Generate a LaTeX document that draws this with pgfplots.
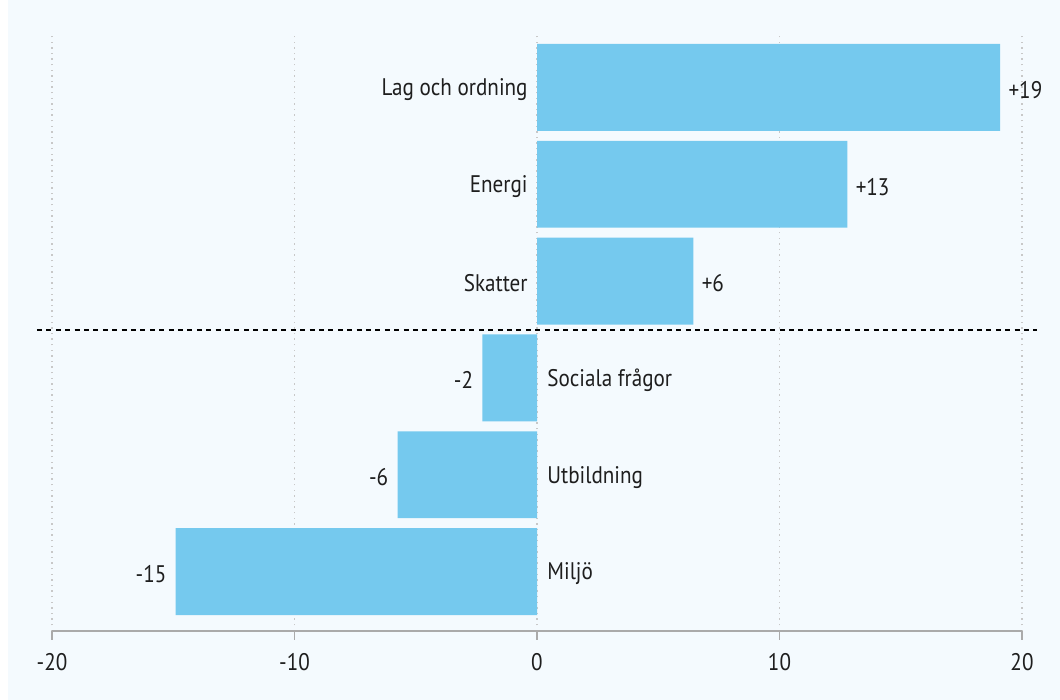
\documentclass[border=0pt]{standalone}
\usepackage{pgfplots}
\pgfplotsset{compat=1.18}
\usepackage{fontspec}
\setmainfont{PT Sans}[FakeStretch=0.88]
\definecolor{bgcol}{RGB}{244,250,254}
\definecolor{barcol}{RGB}{117,201,238}
\definecolor{txt}{RGB}{30,30,30}
\definecolor{axisgray}{RGB}{170,170,170}
\definecolor{gridgray}{RGB}{200,200,200}
\begin{document}
\fontsize{12}{14}\selectfont
\begin{tikzpicture}
\fill[white] (-26pt,-34.5pt) rectangle (504pt,315.5pt);
\fill[bgcol] (-22pt,-34.5pt) rectangle (504pt,315.5pt);
\begin{axis}[at={(0pt,0pt)}, anchor=south west, scale only axis,
  width=485pt, height=299.5pt,
  xmin=-20, xmax=20, ymin=-0.613, ymax=5.572,
  axis x line=bottom, axis y line=none,
  axis line style={-, draw=axisgray, line width=0.9pt},
  xtick={-20,-10,0,10,20}, xticklabels={-20,-10,0,10,20},
  tick align=outside, major tick length=4.5pt,
  tick style={draw=axisgray, line width=0.9pt},
  xmajorgrids,
  grid style={draw=gridgray, line width=0.7pt, dash pattern=on 0.7pt off 2.1pt},
  xticklabel style={font=\fontsize{12}{14}\selectfont, text=txt, yshift=-2.5pt},
  clip=false,
  every node near coord/.append style={font=\fontsize{12}{14}\selectfont, text=txt, inner sep=0pt, yshift=-1.2pt},
]
\addplot[xbar, bar shift=0pt, bar width=0.897, fill=barcol, draw=none,
  point meta=explicit symbolic, nodes near coords,
  nodes near coords style={anchor=west, xshift=4pt}]
  coordinates {(19.1,5)[+19] (12.8,4)[+13] (6.45,3)[+6]};
\addplot[xbar, bar shift=0pt, bar width=0.897, fill=barcol, draw=none,
  point meta=explicit symbolic, nodes near coords,
  nodes near coords style={anchor=east, xshift=-4.5pt}]
  coordinates {(-2.25,2)[-2] (-5.75,1)[-6] (-14.9,0)[-15]};
\addplot[draw=none, mark=none, point meta=explicit symbolic, nodes near coords,
  nodes near coords style={anchor=east, xshift=-4.5pt}]
  coordinates {(0,5)[Lag och ordning] (0,4)[Energi] (0,3)[Skatter]};
\addplot[draw=none, mark=none, point meta=explicit symbolic, nodes near coords,
  nodes near coords style={anchor=west, xshift=5pt}]
  coordinates {(0,2)[Sociala frågor] (0,1)[Utbildning] (0,0)[Miljö]};
\draw[black, line width=1pt, dash pattern=on 2.5pt off 2.2pt]
  (axis cs:-20.62,2.5) -- (axis cs:20.62,2.5);
\end{axis}
\pgfresetboundingbox
\path (-26pt,-34.5pt) rectangle (504pt,315.5pt);
\end{tikzpicture}
\end{document}
